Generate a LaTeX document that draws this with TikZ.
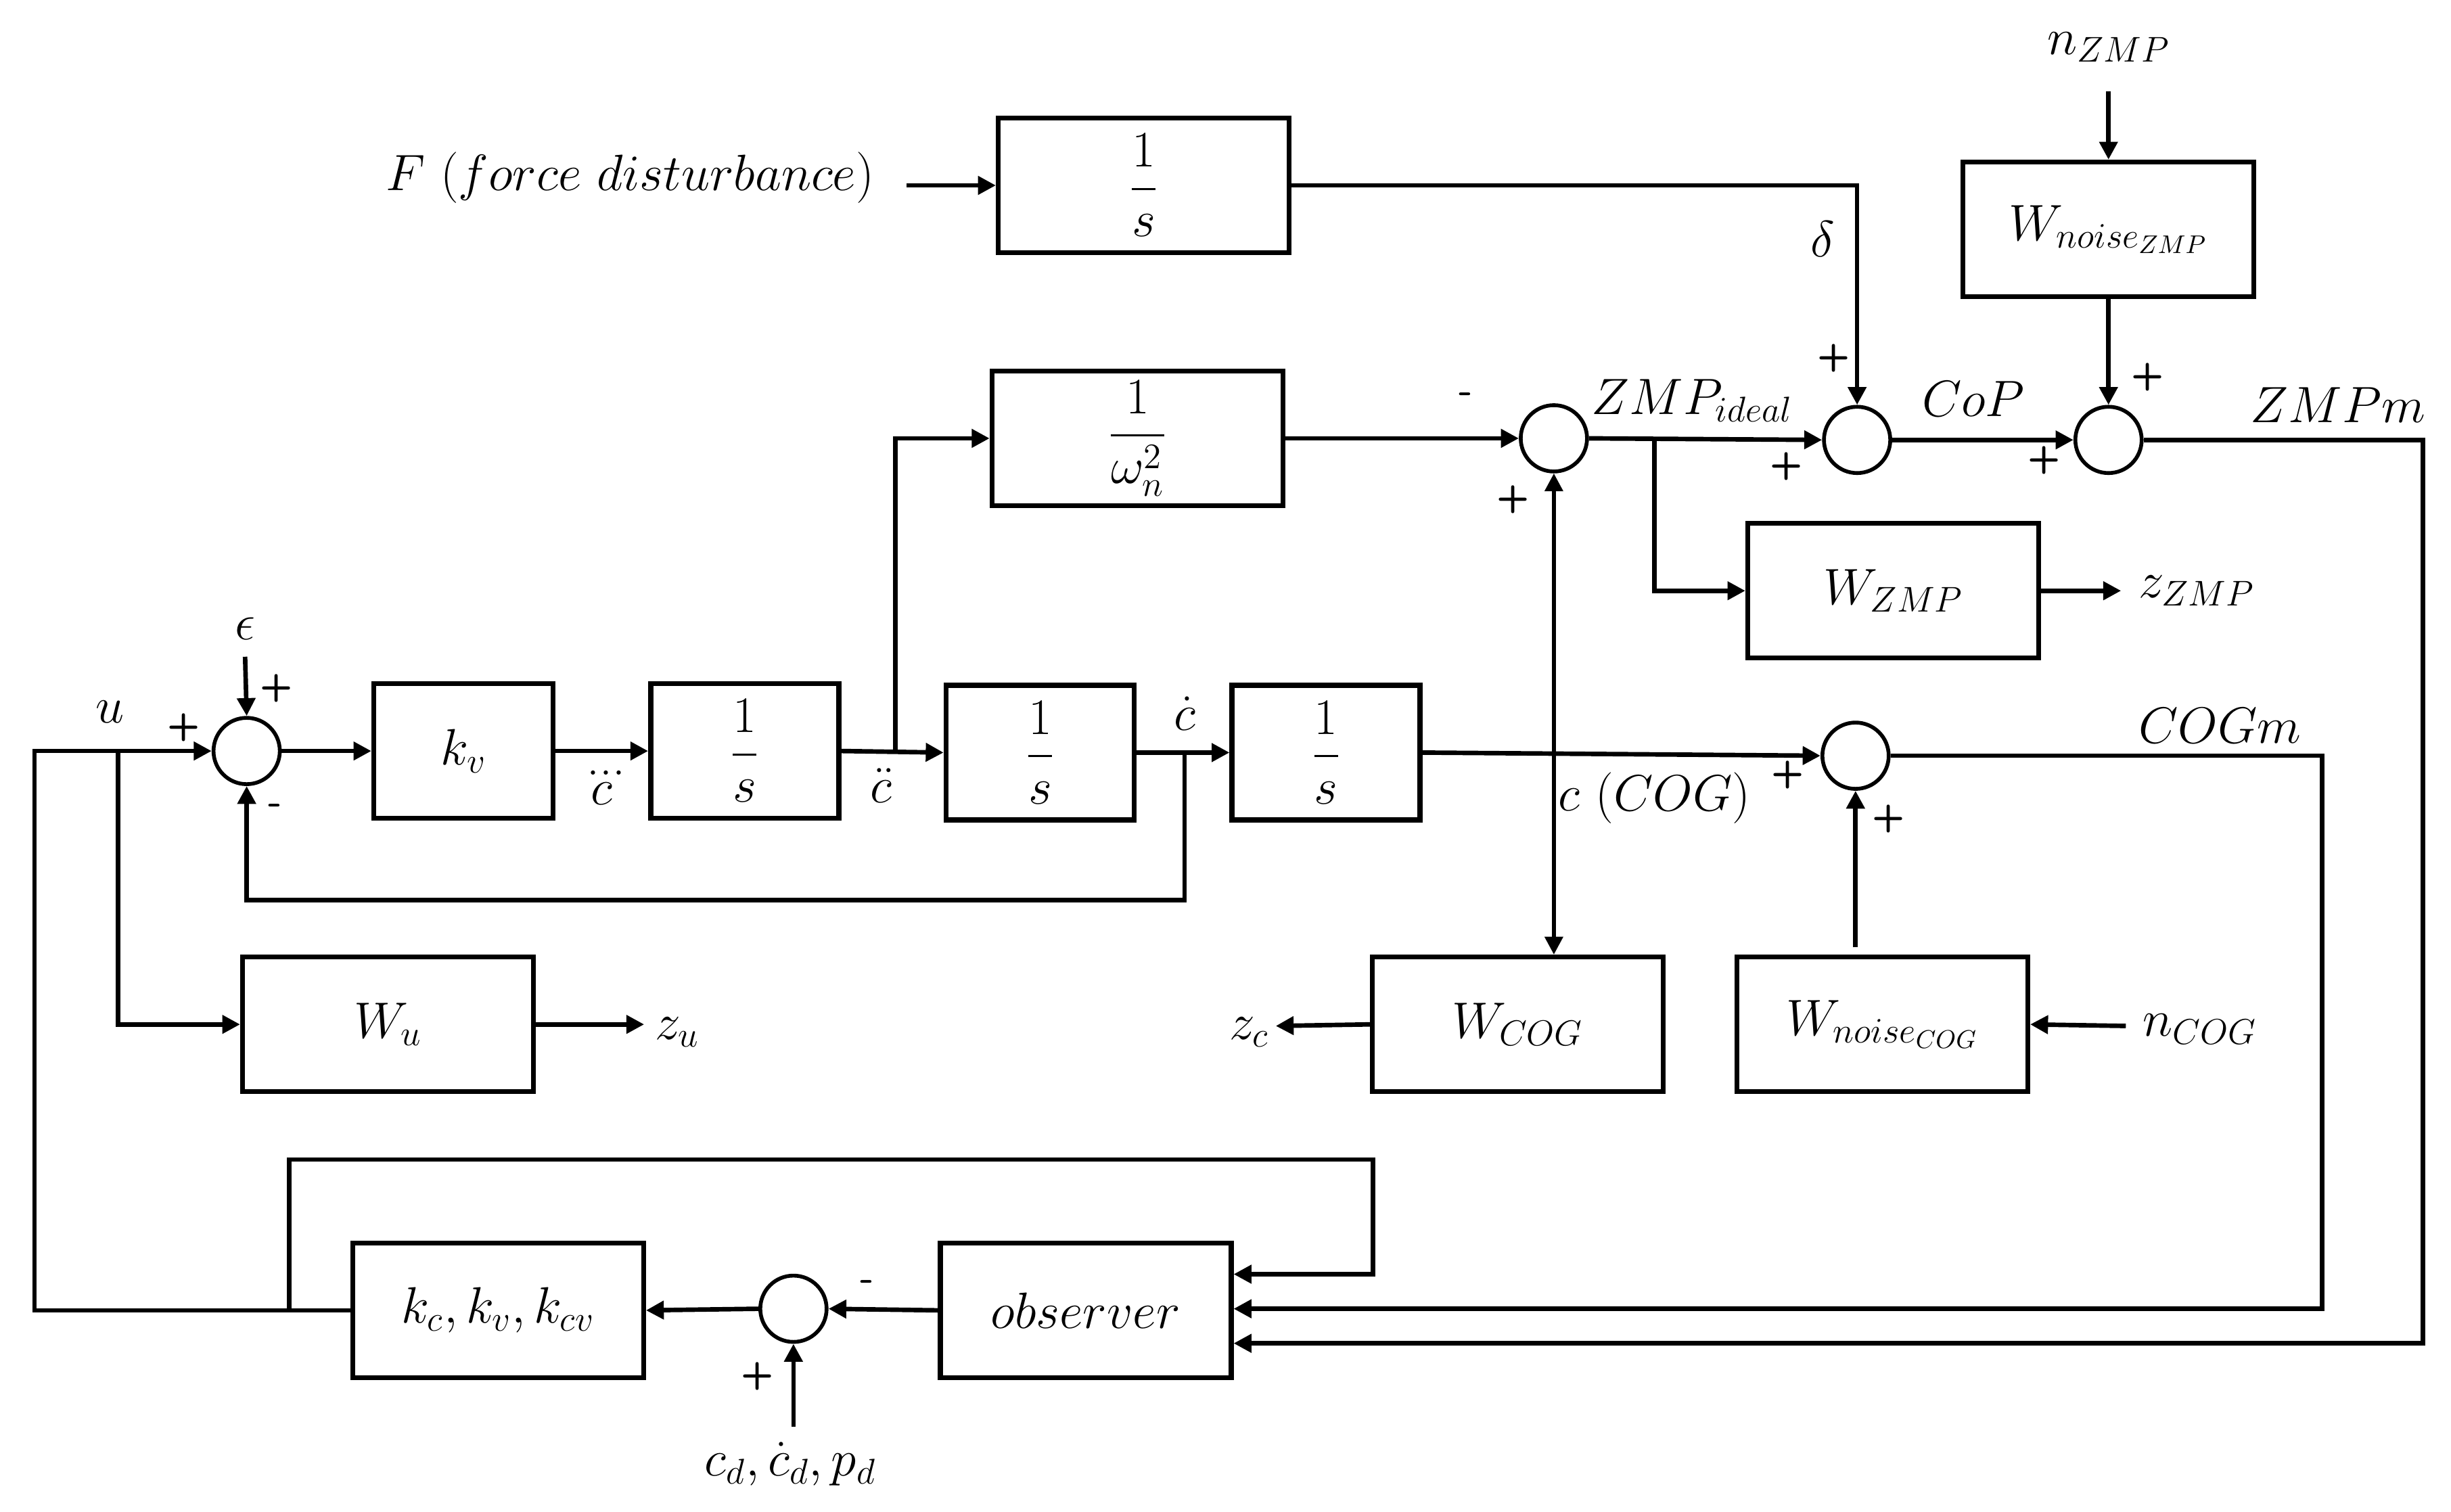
\RequirePackage{fix-cm}
\documentclass[tikz,border=0pt]{standalone}
\usepackage{amsmath}
\usetikzlibrary{arrows.meta}
\begin{document}
\begin{tikzpicture}[x=0.023225cm, y=-0.023225cm,
  every node/.style={font=\fontsize{21.5}{26}\selectfont},
  blk/.style={draw, line width=2.1pt, minimum width=4.30cm, minimum height=1.99cm, inner sep=0pt},
  sblk/.style={blk, minimum width=2.78cm},
  sumj/.style={draw, circle, line width=1.6pt, minimum size=0.98cm, inner sep=0pt},
  tip/.tip={Triangle[length=7.5pt,width=7.5pt]},
  arr/.style={line width=1.9pt, -tip},
  darr/.style={line width=1.6pt, tip-tip},
  sg/.style={font=\fontsize{16}{17}\selectfont\sffamily\bfseries, inner sep=0pt},
  lbl/.style={inner sep=0pt}]
\useasboundingbox (0,0) rectangle (1560,962.3);

% ---------- nodes ----------
\node[lbl] (fdist) at (401,113) {$F\ (force\ disturbance)$};
\node[blk] (bs1) at (728,118) {$\dfrac{1}{s}$};
\node[lbl] (nzmp) at (1342,30) {$n_{ZMP}$};
\node[blk] (wnz) at (1342,146) {$W_{noise_{ZMP}}$};
\node[blk] (bw) at (724,279) {$\dfrac{1}{\omega_n^2}$};
\node[sumj] (s1) at (989,279) {};
\node[sumj] (s2) at (1182,280) {};
\node[sumj] (s3) at (1342,280) {};
\node[blk] (wzmp) at (1205,376) {$W_{ZMP}$};
\node[lbl] (zzmp) at (1398,376) {$z_{ZMP}$};

\node[lbl] (eps) at (156,400) {$\epsilon$};
\node[sumj] (s0) at (157,478) {};
\node[blk, minimum width=2.65cm] (kv) at (295,478) {$k_v$};
\node[sblk] (b2) at (474,478) {$\dfrac{1}{s}$};
\node[sblk] (b3) at (662,479) {$\dfrac{1}{s}$};
\node[sblk] (b4) at (844,479) {$\dfrac{1}{s}$};
\node[sumj] (s4) at (1181,481) {};

\node[blk] (wu) at (247,652) {$W_u$};
\node[lbl] (zu) at (431,657) {$z_u$};
\node[blk] (wcog) at (966,652) {$W_{COG}$};
\node[lbl] (zc) at (795,657) {$z_c$};
\node[blk] (wnc) at (1198,652) {$W_{noise_{COG}}$};
\node[lbl] (nc) at (1400,655) {$n_{COG}$};

\node[blk] (kbox) at (317,834) {$k_c, k_v, k_{cv}$};
\node[blk] (obs) at (691,834) {$observer$};
\node[sumj] (s5) at (505,833) {};
\node[lbl] (cd) at (503,932) {$c_d, \dot{c}_d, p_d$};

% ---------- coordinates ----------
\coordinate (fstart) at (577,118);
\coordinate (nz0) at (1342,58);
\coordinate (br1) at (1053,279);
\coordinate (zz0) at (1350,376);
\coordinate (zr) at (1542,855);
\coordinate (cr) at (1478,833);
\coordinate (ot1) at (184,738);
\coordinate (ot2) at (874,811);
\coordinate (kb) at (184,834);
\coordinate (cd0) at (505,908);
\coordinate (lc) at (22,834);
\coordinate (ub) at (75,478);
\coordinate (zu0) at (410,652);
\coordinate (e0) at (156,418);
\coordinate (cb) at (570,478);
\coordinate (fb) at (754,479);
\coordinate (fb2) at (754,573);
\coordinate (wn0) at (1181,603);
\coordinate (zc0) at (812,653);
\coordinate (nc0) at (1353,653);

% ---------- connectors ----------
\draw[arr] (fstart) -- (bs1.west);
\draw[arr] (bs1.east) -| (s2.north);
\draw[arr] (nz0) -- (wnz.north);
\draw[arr] (wnz.south) -- (s3.north);
\draw[arr] (bw.east) -- (s1.west);
\draw[arr] (s1.east) -- (s2.west);
\draw[arr] (br1) |- (wzmp.west);
\draw[arr] (wzmp.east) -- (zz0);
\draw[arr] (s2.east) -- (s3.west);
\draw[arr] (s3.east) -| (zr) -- (zr -| obs.east);
\draw[arr] (s4.east) -| (cr) -- (cr -| obs.east);
\draw[arr] (kb) -- (ot1) -| (ot2) -- (ot2 -| obs.east);
\draw[arr] (obs.west) -- (s5.east);
\draw[arr] (s5.west) -- (kbox.east);
\draw[arr] (cd0) -- (s5.south);
\draw[arr] (kbox.west) -- (lc) |- (s0.west);
\draw[arr] (ub) |- (wu.west);
\draw[arr] (wu.east) -- (zu0);
\draw[arr] (e0) -- (s0.north);
\draw[arr] (s0.east) -- (kv.west);
\draw[arr] (kv.east) -- (b2.west);
\draw[arr] (b2.east) -- (b3.west);
\draw[arr] (cb) |- (bw.west);
\draw[arr] (b3.east) -- (b4.west);
\draw[arr] (fb) -- (fb2) -| (s0.south);
\draw[arr] (b4.east) -- (s4.west);
\draw[darr] (s1.south) -- (s1.south |- wcog.north);
\draw[arr] (wn0) -- (s4.south);
\draw[arr] (wcog.west) -- (zc0);
\draw[arr] (nc0) -- (wnc.east);

% ---------- labels ----------
\node[lbl] (lu) at (70,453) {$u$};
\node[sg] (p1) at (117,463) {+};
\node[sg] (p2) at (176,438) {+};
\node[sg] (m1) at (175,515) {-};
\node[lbl] (l3) at (383,502) {$\dddot{c}$};
\node[lbl] (l2) at (561,500) {$\ddot{c}$};
\node[lbl] (l1) at (754,454) {$\dot{c}$};
\node[lbl] (lcog) at (1053,508) {$c\ (COG)$};
\node[sg] (m2) at (933,253) {-};
\node[sg] (p3) at (963,318) {+};
\node[lbl] (lzi) at (1077,255) {$ZMP_{ideal}$};
\node[sg] (p4) at (1167,228) {+};
\node[lbl] (ldel) at (1160,152) {$\delta$};
\node[sg] (p5) at (1137,297) {+};
\node[lbl] (lcop) at (1256,254) {$CoP$};
\node[sg] (p6) at (1301,293) {+};
\node[sg] (p7) at (1367,240) {+};
\node[lbl] (lzm) at (1488,258) {$ZMPm$};
\node[lbl] (lcm) at (1413,462) {$COGm$};
\node[sg] (p8) at (1138,493) {+};
\node[sg] (p9) at (1202,521) {+};
\node[sg] (m3) at (552,818) {-};
\node[sg] (p10) at (482,876) {+};
\end{tikzpicture}
\end{document}
